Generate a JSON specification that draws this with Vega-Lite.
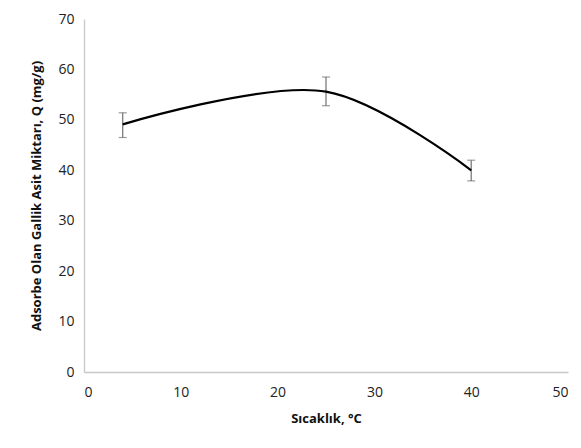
{
  "$schema": "https://vega.github.io/schema/vega-lite/v6.json",
  "width": 484,
  "height": 353,
  "autosize": {"type": "none"},
  "padding": {"left": 84, "top": 19, "right": 13, "bottom": 76},
  "background": "white",
  "config": {
    "view": {"stroke": null},
    "font": "Open Sans",
    "axis": {
      "grid": false,
      "ticks": false,
      "domainColor": "#c8c8c8",
      "domainWidth": 1.3,
      "labelFont": "Open Sans",
      "labelFontSize": 14,
      "labelColor": "#222",
      "titleFont": "Open Sans",
      "titleFontSize": 13,
      "titleFontWeight": "bold",
      "titleColor": "#111"
    }
  },
  "data": {
    "values": [
      {"t": 4, "q": 49.1, "lo": 46.5, "hi": 51.4},
      {"t": 25, "q": 55.6, "lo": 52.8, "hi": 58.5},
      {"t": 40, "q": 40.0, "lo": 37.9, "hi": 42.0}
    ]
  },
  "layer": [
    {
      "mark": {"type": "rule", "color": "#707070", "strokeWidth": 1.2},
      "encoding": {
        "x": {"field": "t", "type": "quantitative"},
        "y": {"field": "lo", "type": "quantitative"},
        "y2": {"field": "hi"}
      }
    },
    {
      "mark": {"type": "tick", "orient": "horizontal", "color": "#707070", "size": 8, "thickness": 1.2},
      "encoding": {
        "x": {"field": "t", "type": "quantitative"},
        "y": {"field": "lo", "type": "quantitative"}
      }
    },
    {
      "mark": {"type": "tick", "orient": "horizontal", "color": "#707070", "size": 8, "thickness": 1.2},
      "encoding": {
        "x": {"field": "t", "type": "quantitative"},
        "y": {"field": "hi", "type": "quantitative"}
      }
    },
    {
      "mark": {"type": "line", "color": "#000", "strokeWidth": 2.2, "interpolate": "catmull-rom"},
      "encoding": {
        "x": {
          "field": "t", "type": "quantitative",
          "scale": {"domain": [0, 50], "nice": false},
          "axis": {"values": [0, 10, 20, 30, 40, 50], "labelPadding": 13, "title": "Sıcaklık, °C", "titlePadding": 13}
        },
        "y": {
          "field": "q", "type": "quantitative",
          "scale": {"domain": [0, 70], "nice": false},
          "axis": {"values": [0, 10, 20, 30, 40, 50, 60, 70], "labelPadding": 10, "title": "Adsorbe Olan  Gallik Asit Miktarı, Q (mg/g)", "titlePadding": 14}
        }
      }
    }
  ]
}
